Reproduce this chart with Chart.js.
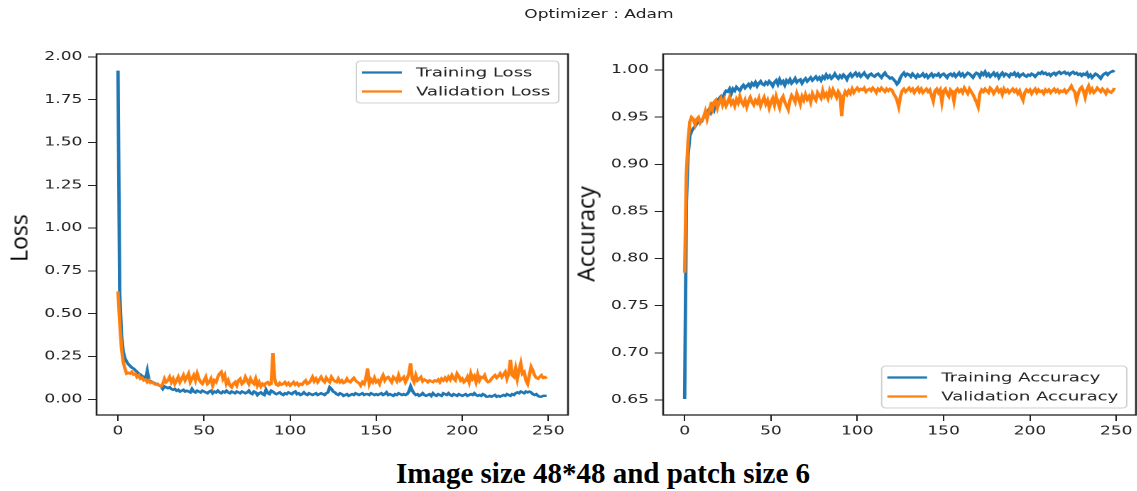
<!DOCTYPE html>
<html>
<head>
<meta charset="utf-8">
<script src="https://cdn.jsdelivr.net/npm/chart.js@4"></script>
<style>
  body { margin: 0; width: 1137px; height: 491px; background: #fff; overflow: hidden; position: relative; }
  /* the plots are drawn narrower and stretched horizontally, like the source image */
  #fig { position: absolute; left: 0; top: 0; width: 802px; height: 445px; transform: scaleX(1.42); transform-origin: 0 0; }
  #titulo { position: absolute; left: 321.8px; top: 8px; width: 200px; text-align: center; font: 12px "DejaVu Sans"; line-height: 12px; color: #222; }
  canvas { position: absolute; top: 0; }
  .ylab { position: absolute; transform: translate(-50%, -50%) rotate(-90deg); font: 23px "Open Sans"; line-height: 1; color: #000; white-space: nowrap; }
  #legenda { position: absolute; left: 303px; top: 459px; width: 600px; text-align: center; font: bold 29px "Liberation Serif"; line-height: 1; color: #000; }
</style>
</head>
<body>
<div id="fig">
  <div id="titulo">Optimizer : Adam</div>
  <canvas id="grafico-loss" width="410" height="445" style="left:0"></canvas>
  <canvas id="grafico-acc" width="392" height="445" style="left:410px"></canvas>
</div>
<div class="ylab" style="left:19px; top:238px">Loss</div>
<div class="ylab" style="left:586px; top:234px">Accuracy</div>
<div id="legenda">Image size 48*48 and patch size 6</div>

<script>
// Valores (epoch 0..249)
const trainLoss = [
  1.92, 0.62, 0.38, 0.28, 0.24, 0.22, 0.205, 0.195, 0.185, 0.18,
  0.17, 0.16, 0.15, 0.145, 0.135, 0.13, 0.12, 0.165, 0.11, 0.105,
  0.10, 0.095, 0.09, 0.085, 0.08, 0.075, 0.06, 0.075, 0.07, 0.065,
  0.07, 0.06, 0.055, 0.06, 0.05, 0.055, 0.045, 0.05, 0.055, 0.045,
  0.05, 0.045, 0.04, 0.06, 0.045, 0.04, 0.05, 0.045, 0.04, 0.05,
  0.045, 0.04, 0.035, 0.045, 0.05, 0.035, 0.045, 0.04, 0.05, 0.04,
  0.035, 0.045, 0.04, 0.05, 0.04, 0.035, 0.045, 0.04, 0.035, 0.045,
  0.04, 0.035, 0.045, 0.04, 0.035, 0.04, 0.05, 0.035, 0.03, 0.045,
  0.04, 0.025, 0.035, 0.04, 0.03, 0.025, 0.055, 0.035, 0.03, 0.05,
  0.045, 0.035, 0.03, 0.035, 0.04, 0.03, 0.025, 0.035, 0.03, 0.04,
  0.035, 0.03, 0.04, 0.045, 0.03, 0.035, 0.025, 0.03, 0.04, 0.03,
  0.025, 0.035, 0.03, 0.025, 0.03, 0.035, 0.025, 0.03, 0.035, 0.03,
  0.025, 0.035, 0.04, 0.07, 0.06, 0.045, 0.04, 0.03, 0.025, 0.035,
  0.03, 0.02, 0.025, 0.03, 0.02, 0.025, 0.03, 0.025, 0.035, 0.03,
  0.025, 0.03, 0.035, 0.025, 0.03, 0.03, 0.025, 0.035, 0.03, 0.025,
  0.03, 0.025, 0.03, 0.035, 0.025, 0.03, 0.04, 0.025, 0.03, 0.025,
  0.02, 0.03, 0.025, 0.035, 0.03, 0.025, 0.03, 0.025, 0.03, 0.045,
  0.075, 0.05, 0.035, 0.025, 0.03, 0.02, 0.025, 0.035, 0.025, 0.02,
  0.025, 0.03, 0.02, 0.035, 0.025, 0.02, 0.03, 0.025, 0.02, 0.035,
  0.03, 0.025, 0.035, 0.025, 0.02, 0.03, 0.025, 0.02, 0.03, 0.025,
  0.02, 0.025, 0.03, 0.02, 0.025, 0.03, 0.025, 0.035, 0.025, 0.02,
  0.025, 0.02, 0.03, 0.025, 0.015, 0.015, 0.02, 0.015, 0.02, 0.025,
  0.015, 0.02, 0.015, 0.02, 0.025, 0.02, 0.03, 0.025, 0.02, 0.03,
  0.025, 0.035, 0.04, 0.035, 0.045, 0.04, 0.035, 0.045, 0.04, 0.045,
  0.04, 0.03, 0.025, 0.03, 0.02, 0.015, 0.015, 0.02, 0.02, 0.02
];

const valLoss = [
  0.63, 0.45, 0.30, 0.22, 0.18, 0.15, 0.155, 0.15, 0.16, 0.145,
  0.15, 0.13, 0.14, 0.12, 0.125, 0.11, 0.115, 0.10, 0.11, 0.095,
  0.10, 0.09, 0.085, 0.09, 0.08, 0.075, 0.09, 0.12, 0.10, 0.11,
  0.13, 0.10, 0.12, 0.09, 0.11, 0.13, 0.10, 0.12, 0.14, 0.11,
  0.13, 0.15, 0.10, 0.12, 0.14, 0.11, 0.15, 0.12, 0.10, 0.09,
  0.11, 0.13, 0.09, 0.10, 0.12, 0.08, 0.11, 0.10, 0.13, 0.15,
  0.16, 0.12, 0.14, 0.09, 0.11, 0.08, 0.07, 0.09, 0.10, 0.08,
  0.11, 0.12, 0.09, 0.10, 0.13, 0.11, 0.09, 0.12, 0.10, 0.09,
  0.12, 0.08, 0.10, 0.075, 0.09, 0.08, 0.095, 0.10, 0.085, 0.09,
  0.27, 0.12, 0.085, 0.08, 0.095, 0.085, 0.09, 0.10, 0.085, 0.095,
  0.08, 0.09, 0.10, 0.085, 0.095, 0.08, 0.09, 0.085, 0.10, 0.11,
  0.09, 0.095, 0.11, 0.13, 0.105, 0.12, 0.10, 0.115, 0.13, 0.11,
  0.10, 0.125, 0.11, 0.10, 0.13, 0.115, 0.105, 0.10, 0.12, 0.10,
  0.11, 0.095, 0.10, 0.12, 0.105, 0.10, 0.115, 0.125, 0.11, 0.10,
  0.095, 0.08, 0.10, 0.09, 0.12, 0.18, 0.09, 0.115, 0.10, 0.125,
  0.10, 0.11, 0.09, 0.12, 0.14, 0.11, 0.125, 0.13, 0.115, 0.10,
  0.13, 0.12, 0.105, 0.14, 0.11, 0.12, 0.13, 0.10, 0.12, 0.15,
  0.21, 0.12, 0.10, 0.14, 0.11, 0.12, 0.13, 0.105, 0.115, 0.11,
  0.10, 0.11, 0.105, 0.10, 0.11, 0.105, 0.115, 0.10, 0.12, 0.11,
  0.125, 0.11, 0.13, 0.115, 0.14, 0.12, 0.11, 0.15, 0.135, 0.11,
  0.12, 0.10, 0.11, 0.13, 0.10, 0.15, 0.12, 0.135, 0.10, 0.145,
  0.11, 0.13, 0.125, 0.14, 0.11, 0.10, 0.105, 0.12, 0.13, 0.14,
  0.125, 0.135, 0.15, 0.13, 0.145, 0.16, 0.12, 0.15, 0.23, 0.14,
  0.13, 0.18, 0.12, 0.17, 0.21, 0.15, 0.16, 0.11, 0.09, 0.14,
  0.19, 0.17, 0.14, 0.125, 0.12, 0.13, 0.14, 0.125, 0.13, 0.12
];

const trainAcc = [
  0.651, 0.86, 0.91, 0.93, 0.935, 0.938, 0.94, 0.943, 0.945, 0.947,
  0.946, 0.95, 0.953, 0.955, 0.958, 0.955, 0.962, 0.958, 0.965, 0.968,
  0.97, 0.972, 0.968, 0.975, 0.978, 0.977, 0.98, 0.975, 0.98, 0.978,
  0.982, 0.98, 0.978, 0.982, 0.984, 0.981, 0.983, 0.985, 0.982, 0.986,
  0.984, 0.987, 0.983, 0.986, 0.988, 0.985, 0.984, 0.987, 0.985, 0.988,
  0.986, 0.983, 0.987, 0.989, 0.985, 0.99, 0.986, 0.988, 0.984, 0.989,
  0.987, 0.99, 0.986, 0.988, 0.991, 0.987, 0.989, 0.99, 0.986, 0.989,
  0.991, 0.988, 0.99, 0.992, 0.989, 0.991, 0.993, 0.99, 0.992, 0.989,
  0.993, 0.991, 0.995, 0.992, 0.994, 0.991, 0.993, 0.996, 0.993, 0.991,
  0.994, 0.992, 0.995, 0.993, 0.99, 0.994, 0.996, 0.993, 0.995, 0.997,
  0.994, 0.996, 0.993, 0.995, 0.997, 0.994, 0.992, 0.995, 0.996, 0.994,
  0.993, 0.995, 0.996, 0.994, 0.992, 0.995, 0.997, 0.994, 0.993, 0.991,
  0.992, 0.99, 0.988, 0.985, 0.987, 0.992, 0.995, 0.997, 0.994, 0.996,
  0.995, 0.993, 0.996, 0.994, 0.992, 0.995, 0.993, 0.994, 0.996, 0.993,
  0.995, 0.992, 0.994, 0.996, 0.993, 0.995, 0.994, 0.996, 0.993, 0.995,
  0.996, 0.994, 0.992, 0.995, 0.996, 0.994, 0.996, 0.993, 0.995, 0.997,
  0.994, 0.996, 0.993, 0.995, 0.997, 0.996, 0.994, 0.992, 0.995, 0.997,
  0.996, 0.993, 0.997, 0.995, 0.998, 0.994, 0.996, 0.993, 0.995, 0.997,
  0.994, 0.996, 0.992, 0.995, 0.997, 0.994, 0.996, 0.995, 0.993, 0.996,
  0.995, 0.997, 0.994, 0.996, 0.993, 0.995, 0.996, 0.994, 0.993, 0.995,
  0.994, 0.996, 0.995, 0.993, 0.995, 0.997, 0.996, 0.998, 0.996, 0.997,
  0.995, 0.996, 0.994, 0.996, 0.997, 0.995, 0.997, 0.998, 0.996, 0.997,
  0.998, 0.996, 0.997, 0.995, 0.997, 0.998, 0.996, 0.997, 0.995, 0.996,
  0.994, 0.996, 0.995, 0.997, 0.993, 0.995, 0.992, 0.994, 0.996, 0.995,
  0.993, 0.991, 0.994, 0.996, 0.997, 0.995, 0.997, 0.998, 0.999, 0.998
];

const valAcc = [
  0.785, 0.89, 0.925, 0.945, 0.95, 0.948, 0.942, 0.948, 0.95, 0.944,
  0.947, 0.95, 0.956, 0.948, 0.955, 0.962, 0.958, 0.966, 0.968, 0.96,
  0.966, 0.97, 0.963, 0.968, 0.962, 0.966, 0.971, 0.964, 0.967, 0.962,
  0.969, 0.965, 0.972, 0.966, 0.963, 0.968, 0.961, 0.967, 0.971, 0.966,
  0.963, 0.968, 0.965, 0.97, 0.962, 0.967, 0.971, 0.964, 0.968, 0.96,
  0.966, 0.97, 0.963, 0.972, 0.966, 0.96, 0.969, 0.972, 0.966, 0.962,
  0.958, 0.968, 0.973, 0.97, 0.966, 0.975, 0.97, 0.964, 0.972, 0.968,
  0.974, 0.969, 0.972, 0.966, 0.975, 0.971, 0.968, 0.976, 0.973, 0.97,
  0.978, 0.972, 0.975, 0.97, 0.978, 0.973, 0.979, 0.975, 0.971, 0.977,
  0.974, 0.951, 0.972, 0.977, 0.974, 0.978, 0.975, 0.98, 0.976, 0.979,
  0.981, 0.978, 0.98, 0.979, 0.981, 0.977, 0.979, 0.98, 0.978, 0.981,
  0.979, 0.976, 0.98, 0.978, 0.981, 0.979, 0.977, 0.98, 0.978, 0.98,
  0.979, 0.975, 0.972, 0.968, 0.961, 0.972, 0.978, 0.98, 0.977, 0.979,
  0.981, 0.978, 0.98, 0.976, 0.979, 0.981, 0.977, 0.98, 0.976, 0.978,
  0.98, 0.977, 0.979, 0.973, 0.967, 0.978, 0.98, 0.976, 0.979, 0.966,
  0.978, 0.98, 0.975, 0.972, 0.979, 0.977, 0.967, 0.978, 0.98, 0.977,
  0.979, 0.976, 0.981, 0.978, 0.975, 0.98, 0.977, 0.974, 0.97, 0.966,
  0.961, 0.975, 0.979, 0.977, 0.98, 0.978, 0.976, 0.981, 0.979, 0.975,
  0.978, 0.981, 0.977, 0.979, 0.974, 0.98, 0.977, 0.979, 0.976, 0.978,
  0.98, 0.977, 0.979, 0.975, 0.978, 0.972, 0.968, 0.976, 0.979, 0.977,
  0.979, 0.975, 0.978, 0.98, 0.976, 0.979, 0.977, 0.978, 0.975, 0.979,
  0.977, 0.979, 0.976, 0.978, 0.98, 0.977, 0.979, 0.976, 0.978, 0.977,
  0.979, 0.976, 0.978, 0.98, 0.983, 0.979, 0.977, 0.968, 0.975, 0.98,
  0.982, 0.978, 0.971, 0.979, 0.983, 0.977, 0.98, 0.976, 0.978, 0.981,
  0.979, 0.977, 0.98, 0.978, 0.975, 0.979, 0.977, 0.976, 0.978, 0.981
];

const epochs = trainLoss.map((_, i) => i);
const xTicks = [0, 50, 100, 150, 200, 250];
const lossTicks = [0, 0.25, 0.5, 0.75, 1.0, 1.25, 1.5, 1.75, 2.0];
const accTicks = [0.65, 0.70, 0.75, 0.80, 0.85, 0.90, 0.95, 1.00];

const AZUL = '#1f77b4';
const LARANJA = '#ff7f0e';
const FONTE = { family: 'DejaVu Sans', size: 12 };

// Moldura completa em volta da área do gráfico (estilo matplotlib)
const molduraPlugin = {
  id: 'moldura',
  afterDatasetsDraw(chart) {
    const { ctx, chartArea: a } = chart;
    ctx.save();
    ctx.strokeStyle = '#222';
    ctx.lineWidth = 1.3;
    ctx.strokeRect(a.left, a.top, a.right - a.left, a.bottom - a.top);
    ctx.restore();
  }
};

// Legenda desenhada dentro da área do gráfico
const legendaPlugin = {
  id: 'legendaInterna',
  afterDraw(chart, args, opts) {
    const { ctx, chartArea: a } = chart;
    const itens = chart.data.datasets;
    ctx.save();
    ctx.font = '12.7px "DejaVu Sans"';
    const larguraTexto = Math.max(...itens.map(d => ctx.measureText(d.label).width));
    const w = 42 + larguraTexto + 6;
    const h = 42;
    const x = a.right - 6.5 - w;
    const y = opts.canto === 'topo' ? a.top + 7 : a.bottom - 7 - h;

    ctx.beginPath();
    ctx.roundRect(x, y, w, h, 3);
    ctx.fillStyle = 'rgba(255,255,255,0.85)';
    ctx.fill();
    ctx.strokeStyle = '#d0d0d0';
    ctx.lineWidth = 1;
    ctx.stroke();

    itens.forEach((d, i) => {
      const cy = y + 11.5 + i * 19;
      ctx.beginPath();
      ctx.moveTo(x + 4, cy);
      ctx.lineTo(x + 32, cy);
      ctx.strokeStyle = d.borderColor;
      ctx.lineWidth = 2.3;
      ctx.stroke();
      ctx.fillStyle = '#222';
      ctx.textBaseline = 'middle';
      ctx.fillText(d.label, x + 42, cy + 0.5);
    });
    ctx.restore();
  }
};

function criarGrafico(id, cfg) {
  const ctx = document.getElementById(id).getContext('2d');
  return new Chart(ctx, {
    type: 'line',
    data: {
      labels: epochs,
      datasets: [
        { label: cfg.nomes[0], data: cfg.serieA, borderColor: AZUL, backgroundColor: AZUL, borderWidth: 2.4, pointRadius: 0, tension: 0, order: 1 },
        { label: cfg.nomes[1], data: cfg.serieB, borderColor: LARANJA, backgroundColor: LARANJA, borderWidth: 2.4, pointRadius: 0, tension: 0, order: 0 }
      ]
    },
    options: {
      responsive: false,
      animation: false,
      devicePixelRatio: 2,
      layout: { padding: { top: 54, right: cfg.direita, left: 0, bottom: 0 } },
      scales: {
        x: {
          type: 'linear',
          min: -12.45,
          max: 261.45,
          afterBuildTicks: s => { s.ticks = xTicks.map(v => ({ value: v })); },
          afterFit: s => { s.height = 30; },
          ticks: { font: FONTE, color: '#222', padding: 3, autoSkip: false, maxRotation: 0 },
          grid: { drawOnChartArea: false, tickLength: 6, color: '#222', lineWidth: 1 },
          border: { display: false }
        },
        y: {
          min: cfg.yMin,
          max: cfg.yMax,
          afterBuildTicks: s => { s.ticks = cfg.yTicks.map(v => ({ value: v })); },
          afterFit: s => { s.width = cfg.larguraY; },
          ticks: { font: FONTE, color: '#222', padding: 4, callback: v => v.toFixed(2) },
          grid: { drawOnChartArea: false, tickLength: 6, color: '#222', lineWidth: 1 },
          border: { display: false }
        }
      },
      plugins: {
        legend: { display: false },
        tooltip: { enabled: false },
        legendaInterna: { canto: cfg.canto }
      }
    },
    plugins: [molduraPlugin, legendaPlugin]
  });
}

criarGrafico('grafico-loss', {
  nomes: ['Training Loss', 'Validation Loss'],
  serieA: trainLoss,
  serieB: valLoss,
  yMin: -0.092,
  yMax: 2.017,
  yTicks: lossTicks,
  larguraY: 68,
  direita: 10,
  canto: 'topo'
});

criarGrafico('grafico-acc', {
  nomes: ['Training Accuracy', 'Validation Accuracy'],
  serieA: trainAcc,
  serieB: valAcc,
  yMin: 0.634,
  yMax: 1.017,
  yTicks: accTicks,
  larguraY: 57,
  direita: 2,
  canto: 'base'
});
</script>
</body>
</html>
